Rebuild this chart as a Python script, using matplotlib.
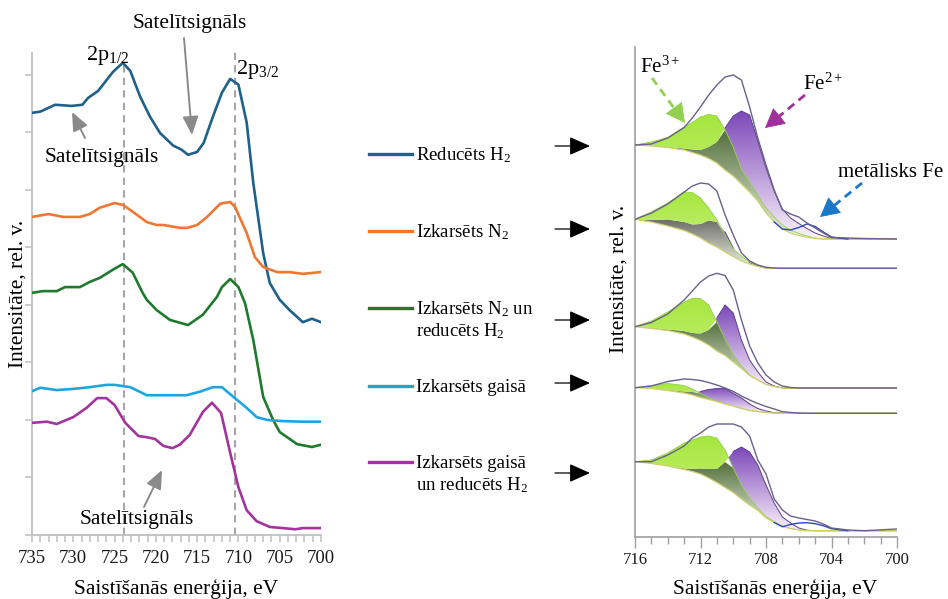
import numpy as np
import matplotlib
matplotlib.use('Agg')
import matplotlib.pyplot as plt
from matplotlib.colors import LinearSegmentedColormap
from matplotlib.path import Path
from matplotlib.patches import PathPatch, FancyArrowPatch
from matplotlib.lines import Line2D
from matplotlib.ticker import MultipleLocator

plt.rcParams['font.family'] = ['Liberation Serif', 'DejaVu Serif']
plt.rcParams['mathtext.fontset'] = 'custom'
plt.rcParams['mathtext.rm'] = 'Liberation Serif'
plt.rcParams['mathtext.it'] = 'Liberation Serif:italic'
plt.rcParams['mathtext.bf'] = 'Liberation Serif:bold'

# ---------------- left panel data (Fe 2p survey) ----------------
E_red_H2 = [735, 734, 732.2, 730.2, 728.9, 728.2, 727, 725.2, 724, 723.1, 721.9, 720.7, 719.5, 717.9, 716.9,
            716.1, 715, 714.2, 713.1, 712, 711, 710, 709, 708.2, 707, 706.2, 705, 703.8, 702.2, 701.1, 700]
I_red_H2 = [7.34, 7.36, 7.48, 7.46, 7.48, 7.60, 7.72, 8.05, 8.21, 8.07, 7.62, 7.27, 6.99, 6.77, 6.70,
            6.61, 6.66, 6.82, 7.27, 7.69, 7.93, 7.83, 7.17, 6.12, 4.90, 4.38, 4.09, 3.91, 3.70, 3.76, 3.70]

E_N2 = [735, 733, 731.2, 729.2, 728, 726.8, 725, 724, 722.8, 721.1, 719.9, 719.1, 717.1, 716.2, 715,
        713.8, 712.2, 711, 710.4, 709, 708, 707, 705.3, 703.8, 702.2, 700.1]
I_N2 = [5.53, 5.58, 5.53, 5.53, 5.58, 5.69, 5.77, 5.74, 5.62, 5.44, 5.39, 5.39, 5.34, 5.34, 5.39,
        5.53, 5.76, 5.79, 5.70, 5.25, 4.83, 4.66, 4.57, 4.57, 4.54, 4.57]

E_N2_H2 = [735, 733.7, 732, 731, 729.2, 728, 726.8, 725, 724, 722.8, 721.6, 721.1, 719.9, 718.3, 716.1,
           714.3, 712.6, 712, 711, 710, 709.2, 708.2, 707, 705.8, 705, 702.9, 701.1, 700]
I_N2_H2 = [4.21, 4.24, 4.24, 4.31, 4.31, 4.40, 4.47, 4.63, 4.71, 4.56, 4.21, 4.09, 3.91, 3.74, 3.65,
           3.83, 4.14, 4.31, 4.45, 4.31, 4.03, 3.39, 2.40, 2.00, 1.79, 1.58, 1.53, 1.57]

E_air = [735, 734, 732, 730, 728, 726, 725, 723.1, 721.1, 718.7, 716.3, 714.7, 713.1, 712, 710.6,
         709, 707.8, 706.5, 704.6, 702.2, 700]
I_air = [2.50, 2.56, 2.52, 2.54, 2.57, 2.61, 2.61, 2.57, 2.43, 2.43, 2.43, 2.49, 2.57, 2.57, 2.40,
         2.21, 2.05, 2.00, 1.98, 1.97, 1.97]

E_air_H2 = [735, 733.2, 732, 730, 728.4, 727.1, 726, 725, 723.7, 722.1, 721.1, 720.1, 719.1, 718, 717.1,
            715.9, 714.3, 713.2, 712.1, 711, 710, 709, 707.8, 706.2, 703.1, 702.2, 700]
I_air_H2 = [1.95, 1.97, 1.93, 2.05, 2.21, 2.38, 2.38, 2.26, 1.95, 1.72, 1.70, 1.67, 1.55, 1.51, 1.57,
            1.74, 2.14, 2.30, 2.12, 1.43, 0.83, 0.43, 0.24, 0.14, 0.10, 0.12, 0.12]

series_labels = [['Reducēts H$_{\\mathrm{2}}$'],
                 ['Izkarsēts N$_{\\mathrm{2}}$'],
                 ['Izkarsēts N$_{\\mathrm{2}}$ un', 'reducēts H$_{\\mathrm{2}}$'],
                 ['Izkarsēts gaisā'],
                 ['Izkarsēts gaisā', 'un reducēts H$_{\\mathrm{2}}$']]
series_colors = ['#1f6188', '#ee7733', '#1f7a2e', '#1ea5e0', '#a2349d']
peak_2p12 = 723.9
peak_2p32 = 710.4

# ---------------- right panel data (fitted Fe 2p3/2 spectra) ----------------
E_fit = [716, 715, 714, 713, 712.5, 712, 711.5, 711, 710.5, 710, 709.5, 709, 708.5, 708, 707.5,
         707, 706.5, 706, 705.5, 705, 704.5, 704, 703, 702, 700]

bg_1 = [392, 391, 389.5, 387, 384.5, 382, 378.5, 374, 367, 361, 353, 345, 336, 324, 315,
        308, 304, 301.5, 300, 298.5, 298, 298, 298, 298, 298]
fe3_1 = [0, 4, 10, 23, 30, 38, 44, 47, 40, 29, 15, 10, 6, 5, 5, 4, 3, 2, 1, 0.5, 0, 0, 0, 0, 0]
fe2_1 = [0, 0, 0.5, 1.5, 3, 5, 11.5, 21, 42, 60, 73, 77, 60, 45, 31, 20, 15, 12, 8.5, 5.5, 3, 0.5, 0, 0, 0]
env_1 = [392, 393, 399, 409.5, 419, 430, 442, 452, 460, 462, 457, 430, 399, 372, 347,
         327, 323, 320, 314, 309, 304, 299.5, 299, 298.5, 298]
met_1 = [0, 0, 0, 0, 0, 0, 0, 0, 0, 0, 0, 0, 0, 0, 0, 0, 3, 8, 13, 12, 7, 2, 0, 0, 0]

bg_2 = [317.7, 315, 311, 306.5, 303, 299, 294, 290, 285, 280.5, 276, 273, 270.5, 269, 268.7,
        268.7, 268.7, 268.7, 268.7, 268.7, 268.7, 268.7, 268.7, 268.7, 268.7]
fe3_2 = [0, 10, 23, 38.5, 41.5, 40, 35, 27, 17, 7.5, 5, 2, 0.5, 0, 0, 0, 0, 0, 0, 0, 0, 0, 0, 0, 0]
fe2_2 = [0, 2, 6.5, 8.5, 9.5, 14, 22.5, 25, 20, 8.5, 4, 1.5, 0.5, 0, 0, 0, 0, 0, 0, 0, 0, 0, 0, 0, 0]
env_2 = [317.7, 324, 333, 345, 351, 354, 353, 346, 322, 302, 284, 276, 272, 269.7, 269,
         268.7, 268.7, 268.7, 268.7, 268.7, 268.7, 268.7, 268.7, 268.7, 268.7]

bg_3 = [210.3, 208.5, 206.5, 203, 200, 196.5, 192, 186, 181.5, 175, 168.5, 161.5, 157, 152.5, 150.5,
        149, 149, 149, 149, 149, 149, 149, 149, 149, 149]
fe3_3 = [0, 7.5, 18.5, 32, 38.7, 42, 40, 29, 16.5, 7, 2.5, 0.5, 0, 0, 0, 0, 0, 0, 0, 0, 0, 0, 0, 0, 0]
fe2_3 = [0, 0.5, 1, 3, 4, 7, 15, 33, 50.5, 49, 28.5, 15.5, 8, 2.5, 0.5, 0, 0, 0, 0, 0, 0, 0, 0, 0, 0]
env_3 = [210.3, 214.5, 223, 237, 246, 255, 261, 263.7, 261.5, 247, 217, 191, 174, 162, 155,
         151, 149.5, 149, 149, 149, 149, 149, 149, 149, 149]

bg_4 = [149.3, 148.5, 146.5, 144, 142, 139.5, 137.5, 135.5, 133, 131, 128.5, 126.5, 125.5, 124.5, 124,
        123.7, 123.7, 123.7, 123.7, 123.7, 123.7, 123.7, 123.7, 123.7, 123.7]
fe3_4 = [0, 3, 7, 7.5, 6, 4, 2, 0, 0, 0, 0, 0, 0, 0, 0, 0, 0, 0, 0, 0, 0, 0, 0, 0, 0]
fe2_4 = [0, 0, 0.5, 1.5, 3, 6, 10, 13, 15.7, 12.7, 10.5, 6.5, 3, 1.5, 0.3, 0, 0, 0, 0, 0, 0, 0, 0, 0, 0]
env_4 = [149.3, 151, 155.5, 158, 157.5, 156.5, 154.5, 152, 149, 145.5, 141, 137, 133.5, 130.5, 128,
         125.3, 124.5, 124, 123.7, 123.7, 123.7, 123.7, 123.7, 123.7, 123.7]

bg_5 = [75.3, 73.5, 71, 67.5, 65.5, 63, 59, 54.5, 49.5, 44.5, 38, 32, 26.5, 19, 14.5,
        10.3, 8.5, 7, 6.3, 6.3, 6.3, 6.3, 6.3, 6.3, 6.3]
fe3_5 = [0, 3.5, 13, 26.5, 31.5, 37, 42, 44.5, 37.5, 24.5, 14, 7, 2.5, 1.5, 1, 0.5, 0, 0, 0, 0, 0, 0, 0, 0, 0]
fe2_5 = [0, 0, 0, 1, 2.5, 5.5, 9, 13.5, 25.5, 41, 52, 53, 45.5, 33, 19.5, 9.7, 5.5, 2, 0.5, 0, 0, 0, 0, 0, 0]
env_5 = [75.3, 75.3, 82, 91, 99, 104, 110, 113, 113, 113, 110, 101, 77, 63, 38,
         27, 21, 19, 17.5, 16, 13, 9, 7, 6.3, 8]
met_5 = [0, 0, 0, 0, 0, 0, 0, 0, 0, 0, 0, 0, 0, 0, 0, 0, 4, 7, 8, 7, 5, 2, 0, 0, 0]

spectra = [(bg_1, fe3_1, fe2_1, env_1, met_1),
           (bg_2, fe3_2, fe2_2, env_2, None),
           (bg_3, fe3_3, fe2_3, env_3, None),
           (bg_4, fe3_4, fe2_4, env_4, None),
           (bg_5, fe3_5, fe2_5, env_5, met_5)]
dark_colors = ['#55703d', '#6c6c68', '#55703d', '#55703d', '#55703d']

# ---------------- figure ----------------
W, H = 948, 599
fig = plt.figure(figsize=(W / 100, H / 100), dpi=100)


def fpx(x, y):
    return (x / W, 1 - y / H)


# ---- left axes ----
ax1 = fig.add_axes([32 / W, 1 - 535 / H, 289 / W, 482 / H])
left_series = [(E_red_H2, I_red_H2), (E_N2, I_N2), (E_N2_H2, I_N2_H2), (E_air, I_air), (E_air_H2, I_air_H2)]
for (e, i), c in zip(left_series, series_colors):
    ax1.plot(e, i, color=c, lw=1.9, solid_joinstyle='round', zorder=3)
ax1.plot([peak_2p12, peak_2p12], [0, 8.2], color='#a6a6a6', lw=1.5, ls=(0, (3.5, 2.5)), zorder=2, clip_on=False)
ax1.plot([peak_2p32, peak_2p32], [0, 8.42], color='#a6a6a6', lw=1.5, ls=(0, (3.5, 2.5)), zorder=2, clip_on=False)
ax1.set_xlim(735, 700)
ax1.set_ylim(0, 8.38)
ax1.xaxis.set_major_locator(MultipleLocator(5))
ax1.xaxis.set_minor_locator(MultipleLocator(1))
ax1.set_yticks(range(0, 9))
ax1.set_yticklabels([])
for s in ['top', 'right']:
    ax1.spines[s].set_visible(False)
for s in ['left', 'bottom']:
    ax1.spines[s].set_color('#bfbfbf')
    ax1.spines[s].set_linewidth(1.3)
ax1.tick_params(axis='both', which='both', direction='out', length=5, width=1.1, color='#bfbfbf')
ax1.tick_params(axis='x', labelsize=13.5, pad=6, labelcolor='#1a1a1a')

# ---- right axes ----
ax2 = fig.add_axes([635 / W, 1 - 537 / H, 262 / W, 490 / H])
E = np.array(E_fit)
grad = np.linspace(0, 1, 256).reshape(-1, 1)


def grad_fill(ax, x, lower, upper, where, c_top, c_bot, ytop, ybot, z):
    coll = ax.fill_between(x, lower, upper, where=where, interpolate=True,
                           facecolor='none', edgecolor='none', linewidth=0)
    paths = [p for p in coll.get_paths() if len(p.vertices) > 2]
    if not paths:
        return
    path = Path.make_compound_path(*paths)
    patch = PathPatch(path, transform=ax.transData, facecolor='none', edgecolor='none')
    ax.add_patch(patch)
    cmap = LinearSegmentedColormap.from_list('g', [c_bot, c_top])
    im = ax.imshow(grad, extent=[716, 700, ybot, ytop], origin='lower', aspect='auto',
                   cmap=cmap, zorder=z, interpolation='bilinear')
    im.set_clip_path(patch)


for k, (bg, fe3, fe2, env, met) in enumerate(spectra):
    bg = np.array(bg, float)
    c3 = bg + np.array(fe3, float)
    c2 = bg + np.array(fe2, float)
    low = np.minimum(c3, c2)
    ybase = bg.min()
    grad_fill(ax2, E, bg, low, low > bg + 0.01, dark_colors[k], '#eef5e6', low.max(), ybase, 2)
    grad_fill(ax2, E, c2, c3, c3 >= c2, '#a6e63e', '#d2f590', c3.max(), ybase, 2.1)
    grad_fill(ax2, E, c3, c2, c2 >= c3, '#7c48b8', '#fcf3fc', c2.max(), ybase, 2.2)
    top_c2 = np.where(c2 >= c3 - 0.5, c2, np.nan)
    ax2.plot(E, top_c2, color='#5e3f8c', lw=0.7, zorder=3)
    ax2.plot(E, c3, color='#8fd048', lw=0.6, zorder=3)
    ax2.plot(E, bg, color='#d2cf70', lw=0.9, zorder=3)
    if met is not None:
        mm = np.array(met, float)
        ax2.plot(E[14:23], (bg + mm)[14:23], color='#2a46c0', lw=1.0, zorder=3.5)
    ax2.plot(E, env, color='#6b5f8c', lw=1.0, zorder=4)

ax2.set_xlim(716, 700)
ax2.set_ylim(0, 490)
ax2.xaxis.set_major_locator(MultipleLocator(4))
ax2.xaxis.set_minor_locator(MultipleLocator(1))
ax2.set_yticks([])
for s in ['top', 'right']:
    ax2.spines[s].set_visible(False)
for s in ['left', 'bottom']:
    ax2.spines[s].set_color('#a0a0a0')
    ax2.spines[s].set_linewidth(1.2)
ax2.tick_params(axis='x', which='major', direction='out', length=8, width=1.0, color='#a0a0a0',
                labelsize=12, pad=3, labelcolor='#1a1a1a')
ax2.tick_params(axis='x', which='minor', direction='out', length=5, width=1.0, color='#a0a0a0')

# ---- axis labels ----
fig.text(*fpx(176, 589), 'Saistīšanās enerģija, eV', ha='center', va='center', fontsize=15.4)
fig.text(*fpx(775, 589), 'Saistīšanās enerģija, eV', ha='center', va='center', fontsize=15.4)
fig.text(*fpx(18, 294), 'Intensitāte, rel. v.', ha='center', va='center', rotation=90, fontsize=15.4)
fig.text(*fpx(619, 279), 'Intensitāte, rel. v.', ha='center', va='center', rotation=90, fontsize=15.4)

# ---- annotations left ----
fig.text(*fpx(190, 28), 'Satelītsignāls', ha='center', va='baseline', fontsize=15.4)
fig.text(*fpx(102, 162), 'Satelītsignāls', ha='center', va='baseline', fontsize=15.4)
fig.text(*fpx(137, 524), 'Satelītsignāls', ha='center', va='baseline', fontsize=15.4)
fig.text(*fpx(86, 60), '2p$_{\\mathrm{1/2}}$', ha='left', va='baseline', fontsize=16)
fig.text(*fpx(236, 74), '2p$_{\\mathrm{3/2}}$', ha='left', va='baseline', fontsize=16)


def arrow(x1, y1, x2, y2, color, lw=1.5, hl=0.8, hw=0.4):
    fig.add_artist(FancyArrowPatch(
        fpx(x1, y1), fpx(x2, y2), transform=fig.transFigure,
        arrowstyle='-|>,head_length=%s,head_width=%s' % (hl, hw), mutation_scale=15,
        color=color, lw=lw, shrinkA=0, shrinkB=0))


def dashed_arrow(x1, y1, x2, y2, color):
    dx, dy = x2 - x1, y2 - y1
    L = np.hypot(dx, dy)
    ux, uy = dx / L, dy / L
    hx, hy = x2 - ux * 11, y2 - uy * 11
    fig.add_artist(Line2D([x1 / W, hx / W], [1 - y1 / H, 1 - hy / H], transform=fig.transFigure,
                          color=color, lw=2.0, ls=(0, (3, 2))))
    arrow(hx - ux * 2, hy - uy * 2, x2, y2, color, lw=0.6, hl=0.85, hw=0.45)


arrow(184, 38, 192, 135, '#8a8a8a', lw=1.4, hl=0.75, hw=0.32)
arrow(85, 138, 72, 112, '#8a8a8a', lw=1.4, hl=0.75, hw=0.32)
arrow(144, 507, 162, 470, '#8a8a8a', lw=1.4, hl=0.75, hw=0.32)

# ---- annotations right ----
fig.text(*fpx(640, 73), 'Fe$^{\\mathrm{3+}}$', ha='left', va='baseline', fontsize=15)
fig.text(*fpx(803, 90), 'Fe$^{\\mathrm{2+}}$', ha='left', va='baseline', fontsize=15)
fig.text(*fpx(838, 177), 'metālisks Fe', ha='left', va='baseline', fontsize=15)
dashed_arrow(652, 78, 685, 123, '#92d050')
dashed_arrow(805, 95, 765, 128, '#a0309b')
dashed_arrow(862, 183, 820, 217, '#1a78c8')

# ---- legend in the middle ----
legend_y = [154, 231, 308, 386, 462]
arrow_y = [146, 229, 320, 383, 473]
for ly, labs, c, ay in zip(legend_y, series_labels, series_colors, arrow_y):
    fig.add_artist(Line2D([369 / W, 412 / W], [1 - ly / H, 1 - ly / H], transform=fig.transFigure,
                          color=c, lw=2.4))
    for j, lab in enumerate(labs):
        fig.text(*fpx(416, ly + 6 + 22 * j), lab, ha='left', va='baseline', fontsize=13.5)
    arrow(555, ay, 590, ay, 'black', lw=0.9, hl=0.85, hw=0.38)

fig.savefig('out.png', dpi=100)
